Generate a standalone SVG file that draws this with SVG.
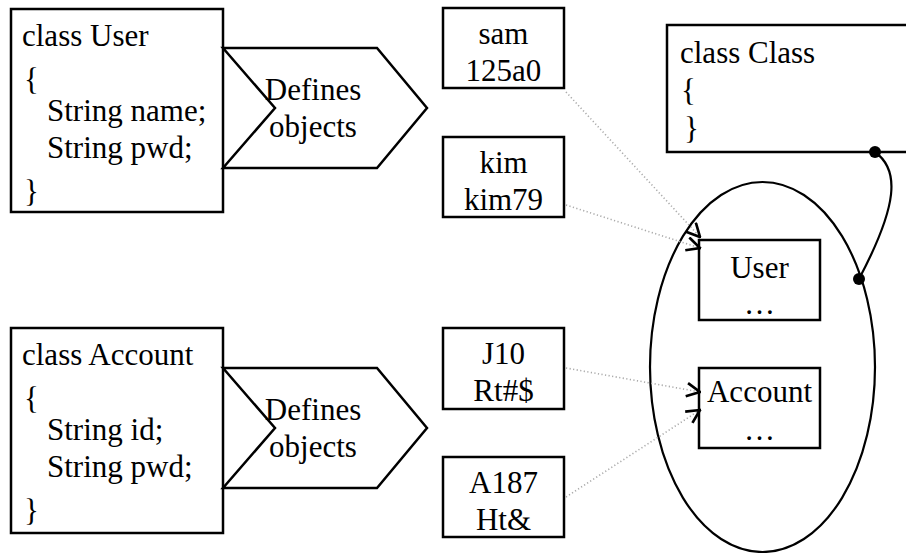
<svg xmlns="http://www.w3.org/2000/svg" width="906" height="553" viewBox="0 0 906 553">
<defs>
<style>
text{font-family:"Liberation Serif","Times New Roman",serif;font-size:31px;fill:#000}
.box{fill:#fff;stroke:#000;stroke-width:2.5}
.chev{fill:#fff;stroke:#000;stroke-width:2.5;stroke-linejoin:miter}
.mid{text-anchor:middle}
.dot{fill:none;stroke:#aaa;stroke-width:1.6;stroke-dasharray:1.2 2.4}
.ell{fill:none;stroke:#000;stroke-width:2.2}
.link{fill:none;stroke:#000;stroke-width:2.2}
</style>
<marker id="open" viewBox="0 0 12 12" refX="11" refY="6" markerWidth="16" markerHeight="16" markerUnits="userSpaceOnUse" orient="auto">
<path d="M1,1 L11,6 L1,11" fill="none" stroke="#000" stroke-width="2"/>
</marker>
</defs>
<rect width="906" height="553" fill="#fff"/>

<g id="class-user">
<rect class="box" x="11" y="9" width="212" height="203"/>
<text x="22" y="46">class User</text>
<text x="24" y="90">{</text>
<text x="47" y="121">String name;</text>
<text x="47" y="158">String pwd;</text>
<text x="24" y="202">}</text>
</g>
<g id="defines-user">
<polygon class="chev" points="223,48 377,48 427,108 377,168 223,168 275,108"/>
<text class="mid" x="313" y="100">Defines</text>
<text class="mid" x="313" y="137">objects</text>
</g>

<g id="class-account">
<rect class="box" x="11" y="328" width="212" height="205"/>
<text x="22" y="365">class Account</text>
<text x="24" y="409">{</text>
<text x="47" y="440">String id;</text>
<text x="47" y="477">String pwd;</text>
<text x="24" y="521">}</text>
</g>
<g id="defines-account">
<polygon class="chev" points="223,368 377,368 427,428 377,488 223,488 275,428"/>
<text class="mid" x="313" y="420">Defines</text>
<text class="mid" x="313" y="457">objects</text>
</g>

<g id="obj-sam">
<rect class="box" x="443" y="8" width="121" height="80"/>
<text class="mid" x="503.5" y="44">sam</text>
<text class="mid" x="503.5" y="81">125a0</text>
</g>
<g id="obj-kim">
<rect class="box" x="443" y="137" width="121" height="80"/>
<text class="mid" x="503.5" y="173">kim</text>
<text class="mid" x="503.5" y="210">kim79</text>
</g>
<g id="obj-j10">
<rect class="box" x="443" y="328" width="121" height="81"/>
<text class="mid" x="503.5" y="364">J10</text>
<text class="mid" x="503.5" y="401">Rt#$</text>
</g>
<g id="obj-a187">
<rect class="box" x="443" y="457" width="121" height="80"/>
<text class="mid" x="503.5" y="493">A187</text>
<text class="mid" x="503.5" y="530">Ht&amp;</text>
</g>

<g id="class-class">
<rect class="box" x="667" y="25" width="260" height="127"/>
<text x="680" y="63">class Class</text>
<text x="681" y="101">{</text>
<text x="684" y="139">}</text>
</g>

<g id="class-area">
<ellipse class="ell" cx="762.5" cy="367" rx="112.5" ry="185"/>
</g>
<g id="user-class">
<rect class="box" x="699" y="240" width="121" height="80"/>
<text class="mid" x="759.5" y="278">User</text>
<text class="mid" x="759.5" y="314">…</text>
</g>
<g id="account-class">
<rect class="box" x="699" y="368" width="121" height="80"/>
<text class="mid" x="759.5" y="402">Account</text>
<text class="mid" x="759.5" y="440">…</text>
</g>

<g id="connectors">
<line class="dot" x1="566" y1="92" x2="700" y2="237" marker-end="url(#open)"/>
<line class="dot" x1="566" y1="205" x2="700" y2="248" marker-end="url(#open)"/>
<line class="dot" x1="566" y1="368" x2="700" y2="392" marker-end="url(#open)"/>
<line class="dot" x1="566" y1="497" x2="700" y2="410" marker-end="url(#open)"/>
<path class="link" d="M875,152 C900,170 898,205 859,279"/>
<circle cx="875" cy="152" r="6" fill="#000"/>
<circle cx="859" cy="279" r="6" fill="#000"/>
</g>
</svg>
